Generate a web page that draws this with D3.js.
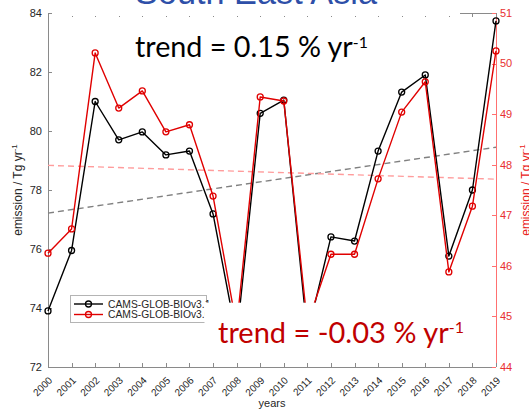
<!DOCTYPE html>
<html>
<head>
<meta charset="utf-8">
<script src="https://cdn.jsdelivr.net/npm/d3@7"></script>
<style>
  html, body { margin: 0; padding: 0; background: #fff; }
  svg { display: block; }
</style>
</head>
<body>
<svg id="chart" width="529" height="409"></svg>
<script>
// Annual emissions, South East Asia, two inventory versions
const years = d3.range(2000, 2020);
const v31 = [73.9, 75.95, 81.0, 79.7, 79.97, 79.19, 79.32, 77.19, 73.0, 80.6,
             81.05, 73.1, 76.41, 76.27, 79.32, 81.32, 81.9, 75.76, 78.0, 83.73];
const v30 = [46.25, 46.73, 50.21, 49.12, 49.46, 48.65, 48.79, 47.38, 44.8, 49.34,
             49.26, 44.85, 46.23, 46.23, 47.72, 49.04, 49.64, 45.88, 47.18, 50.25];
const seriesNames = ["CAMS-GLOB-BIOv3.1", "CAMS-GLOB-BIOv3.0"];
const trendRates = [0.15, -0.03];   // % per year
const leftTicks = [72, 74, 76, 78, 80, 82, 84];
const rightTicks = [44, 45, 46, 47, 48, 49, 50, 51];

const svg = d3.select("#chart");
const axisGray = "#8a8a8a";
const textGray = "#262626";
const red = "#e00000";
const font = "'Liberation Sans', Arial, sans-serif";

const x = d3.scaleLinear().domain([2000, 2019]).range([48, 496]);
const yL = d3.scaleLinear().domain([72, 84]).range([367, 13]);
const yR = d3.scaleLinear().domain([44, 51]).range([367, 13]);

// ----- axes frame -----
const ax = svg.append("g").attr("shape-rendering", "crispEdges");
ax.append("line").attr("x1", x(2000)).attr("x2", x(2019)).attr("y1", yL(84) + 0.5).attr("y2", yL(84) + 0.5)
  .attr("stroke", axisGray);
ax.append("line").attr("x1", x(2000)).attr("x2", x(2019)).attr("y1", yL(72) + 0.5).attr("y2", yL(72) + 0.5)
  .attr("stroke", axisGray);
ax.append("line").attr("x1", x(2000) + 0.5).attr("x2", x(2000) + 0.5).attr("y1", yL(84)).attr("y2", yL(72))
  .attr("stroke", axisGray);
ax.append("line").attr("x1", x(2019) + 0.5).attr("x2", x(2019) + 0.5).attr("y1", yR(51)).attr("y2", yR(44))
  .attr("stroke", "#ff7070");

// x ticks (inward, bottom and top)
years.forEach(yr => {
  const px = Math.round(x(yr)) + 0.5;
  ax.append("line").attr("x1", px).attr("x2", px).attr("y1", yL(72)).attr("y2", yL(72) - 4).attr("stroke", axisGray);
  ax.append("line").attr("x1", px).attr("x2", px).attr("y1", yL(84)).attr("y2", yL(84) + 4).attr("stroke", axisGray);
});
// left ticks
leftTicks.forEach(t => {
  const py = Math.round(yL(t)) + 0.5;
  ax.append("line").attr("x1", x(2000)).attr("x2", x(2000) + 4).attr("y1", py).attr("y2", py).attr("stroke", axisGray);
});
// right ticks
rightTicks.forEach(t => {
  const py = Math.round(yR(t)) + 0.5;
  ax.append("line").attr("x1", x(2019)).attr("x2", x(2019) - 4).attr("y1", py).attr("y2", py).attr("stroke", "#ff7070");
});

// tick labels
svg.append("g").selectAll("text").data(leftTicks).join("text")
  .attr("x", 42).attr("y", d => yL(d)).attr("dy", "0.35em")
  .attr("text-anchor", "end").attr("font-family", font).attr("font-size", 11)
  .attr("fill", textGray).text(d => d);
svg.append("g").selectAll("text").data(rightTicks).join("text")
  .attr("x", 500).attr("y", d => yR(d)).attr("dy", "0.35em")
  .attr("text-anchor", "start").attr("font-family", font).attr("font-size", 11)
  .attr("fill", "#e83030").text(d => d);
svg.append("g").selectAll("text").data(years).join("text")
  .attr("transform", d => `translate(${x(d) + 5},381) rotate(-45)`)
  .attr("text-anchor", "end").attr("font-family", font).attr("font-size", 10)
  .attr("fill", textGray).text(d => d);

// axis titles
svg.append("text").attr("x", 272).attr("y", 407).attr("text-anchor", "middle")
  .attr("font-family", font).attr("font-size", 11).attr("fill", textGray).text("years");

function unitLabel(g, color) {
  const t = g.append("text").attr("text-anchor", "middle").attr("font-family", font)
    .attr("font-size", 12).attr("fill", color);
  t.append("tspan").text("emission / Tg yr");
  t.append("tspan").attr("font-size", 8).attr("dy", -5).text("-1");
  return t;
}
unitLabel(svg.append("g").attr("transform", `translate(22,190) rotate(-90)`), textGray);
unitLabel(svg.append("g").attr("transform", `translate(530,190) rotate(-90)`), "#e82020");

// ----- trend lines (slope from the stated rate, through the series mean) -----
function trendLine(vals, rate, yScale, color) {
  const m = d3.mean(vals), ym = d3.mean(years);
  const slope = rate / 100 * m;
  const ends = [2000, 2019].map(yr => [x(yr), yScale(m + slope * (yr - ym))]);
  svg.append("path").attr("d", d3.line()(ends)).attr("fill", "none")
    .attr("stroke", color).attr("stroke-width", 1.4).attr("stroke-dasharray", "6,4");
}
trendLine(v31, trendRates[0], yL, "#808080");
trendLine(v30, trendRates[1], yR, "#ff9c9c");

// ----- series -----
function series(vals, yScale, color) {
  const pts = years.map((yr, i) => [x(yr), yScale(vals[i])]);
  svg.append("path").attr("d", d3.line()(pts)).attr("fill", "none")
    .attr("stroke", color).attr("stroke-width", 1.4).attr("stroke-linejoin", "round");
  svg.append("g").selectAll("circle").data(pts).join("circle")
    .attr("cx", d => d[0]).attr("cy", d => d[1]).attr("r", 3)
    .attr("fill", "none").attr("stroke", color).attr("stroke-width", 1.3);
}
series(v31, yL, "#000");
series(v30, yR, red);

// ----- legend -----
const lg = svg.append("g");
lg.append("rect").attr("x", 70.5).attr("y", 295.5).attr("width", 135.5).attr("height", 27)
  .attr("fill", "#fff").attr("stroke", "#b4b4b4").attr("shape-rendering", "crispEdges");
[["#000", 304], [red, 314.5]].forEach(([c, yy], i) => {
  lg.append("line").attr("x1", 74).attr("x2", 103).attr("y1", yy).attr("y2", yy)
    .attr("stroke", c).attr("stroke-width", 1.4);
  lg.append("circle").attr("cx", 88.5).attr("cy", yy).attr("r", 3)
    .attr("fill", "none").attr("stroke", c).attr("stroke-width", 1.3);
  lg.append("text").attr("x", 108).attr("y", yy).attr("dy", "0.35em")
    .attr("font-family", font).attr("font-size", 10.3).attr("fill", textGray)
    .text(seriesNames[i]);
});

// ----- slide overlays: white text boxes -----
svg.append("rect").attr("x", 52).attr("y", 0).attr("width", 408).attr("height", 16).attr("fill", "#fff");
svg.append("rect").attr("x", 204.5).attr("y", 302.7).attr("width", 266).attr("height", 60).attr("fill", "#fff");

// fits a text element to a target width by scaling its font size
function fitWidth(t, target) {
  const w = t.node().getComputedTextLength();
  const fs = parseFloat(t.attr("font-size"));
  t.attr("font-size", fs * target / w);
}

const title = svg.append("text").attr("x", 256).attr("y", 4).attr("text-anchor", "middle")
  .attr("font-family", "'Liberation Sans', Arial, sans-serif").attr("font-size", 34)
  .attr("fill", "#2e4fa8").text("South East Asia");
fitWidth(title, 242);

const annFont = "Lato, 'Open Sans', sans-serif";
function trendText(xx, yy, rate, color, width) {
  const t = svg.append("text").attr("x", xx).attr("y", yy).attr("font-family", annFont)
    .attr("font-size", 27).attr("fill", color);
  t.append("tspan").text(`trend = ${rate.toFixed(2)} % yr`);
  t.append("tspan").attr("font-size", "0.55em").attr("dy", "-0.6em").text("-1");
  fitWidth(t, width);
  return t;
}
trendText(135, 57, trendRates[0], "#000", 233);
trendText(218, 342.7, trendRates[1], "#c00000", 246);
</script>
</body>
</html>
